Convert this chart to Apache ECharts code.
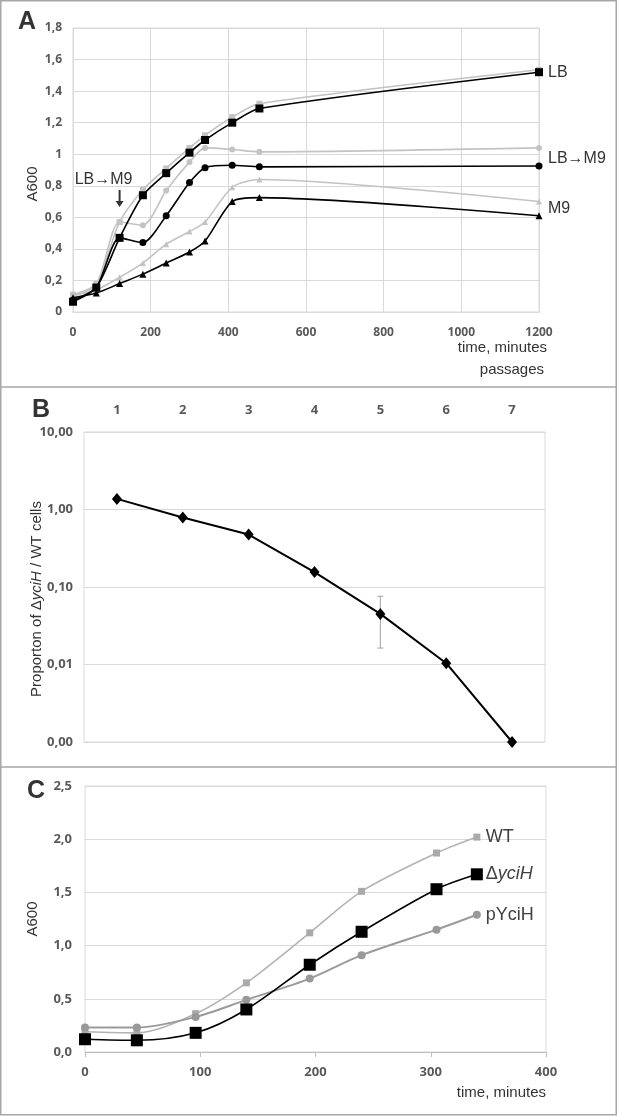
<!DOCTYPE html>
<html><head><meta charset="utf-8">
<script src="https://cdn.jsdelivr.net/npm/echarts@6/dist/echarts.min.js"></script>
<style>html,body{margin:0;padding:0;background:#fff}#c{width:618px;height:1116px}</style>
</head><body><div id="c"></div>
<script>
// ---------- Panel A ----------
const timeA = [0, 60, 120, 180, 240, 300, 340, 410, 480, 1200];
const lbGray    = [0.11, 0.18, 0.57, 0.775, 0.91, 1.04, 1.12, 1.235, 1.32, 1.535];
const lbBlack   = [0.065, 0.155, 0.47, 0.74, 0.88, 1.01, 1.09, 1.20, 1.29, 1.52];
const lbm9Gray  = [0.10, 0.17, 0.57, 0.55, 0.77, 0.95, 1.04, 1.03, 1.015, 1.04];
const lbm9Black = [0.075, 0.155, 0.47, 0.44, 0.61, 0.82, 0.915, 0.93, 0.92, 0.925];
const m9Gray    = [0.11, 0.14, 0.22, 0.31, 0.43, 0.51, 0.57, 0.79, 0.84, 0.70];
const m9Black   = [0.09, 0.12, 0.18, 0.24, 0.31, 0.38, 0.45, 0.70, 0.725, 0.61];
const arrowTime = 120, arrowLevel = 0.72;

// ---------- Panel B ----------
const passages = ['1', '2', '3', '4', '5', '6', '7'];
const ratio = [1.37, 0.79, 0.475, 0.156, 0.045, 0.0104, 0.001];
const errPassage = ['5'];
const errLow = [0.0163];
const errHigh = [0.076];

// ---------- Panel C ----------
const timeC = [0, 45, 96, 140, 195, 240, 305, 340];
const wt    = [0.19, 0.18, 0.36, 0.65, 1.12, 1.51, 1.87, 2.02];
const dyciH = [0.12, 0.11, 0.18, 0.40, 0.82, 1.13, 1.53, 1.67];
const pyciH = [0.23, 0.23, 0.33, 0.49, 0.69, 0.91, 1.15, 1.29];

const chart = echarts.init(document.getElementById('c'), null, {renderer: 'canvas'});
const FF = 'Liberation Sans, Arial, sans-serif';
const TICKF = 'Open Sans, sans-serif';
const pairs = (xs, ys) => xs.map((x, i) => [x, ys[i]]);
const comma1 = v => String(Math.round(v * 10) / 10).replace('.', ',');
const splitL = {show: true, lineStyle: {color: '#d9d9d9', width: 1}};
const axLine = {show: true, lineStyle: {color: '#d9d9d9', width: 1}};
const tickLbl = (size, margin, fmt) => ({fontFamily: TICKF, fontWeight: 'bold', fontSize: size, color: '#595959', margin, formatter: fmt});

function lineA(name, data, color, symbol, size, z, endLabel, extra) {
  return Object.assign({
    type: 'line', name, xAxisIndex: 0, yAxisIndex: 0, data: pairs(timeA, data),
    smooth: 0.25, symbol, symbolSize: size, z,
    lineStyle: {color, width: 1.6}, itemStyle: {color},
    endLabel: endLabel || {show: false}, animation: false
  }, extra || {});
}
const endLblA = (text, offset) => ({show: true, formatter: text, distance: 9, offset: offset || [0, 0], color: '#333', fontSize: 16, fontFamily: FF});

const GRAYA = '#c3c3c3';
const gridBase = {show: true, borderColor: '#d9d9d9', borderWidth: 1, containLabel: false, outerBoundsMode: 'none'};

const option = {
  animation: false,
  backgroundColor: '#fff',
  textStyle: {fontFamily: FF},
  title: [
    {text: 'A', left: 18, top: 10, padding: 0, textStyle: {fontSize: 25, fontWeight: 'bold', color: '#333', fontFamily: FF}},
    {text: 'B', left: 32, top: 398, padding: 0, textStyle: {fontSize: 25, fontWeight: 'bold', color: '#333', fontFamily: FF}},
    {text: 'C', left: 27, top: 779, padding: 0, textStyle: {fontSize: 25, fontWeight: 'bold', color: '#333', fontFamily: FF}}
  ],
  grid: [
    Object.assign({left: 73, top: 28, width: 466, height: 284}, gridBase),
    Object.assign({left: 84, top: 432, width: 461, height: 310}, gridBase),
    Object.assign({left: 85, top: 786, width: 461, height: 266}, gridBase)
  ],
  xAxis: [
    {gridIndex: 0, type: 'value', min: 0, max: 1200, interval: 200,
     axisLine: axLine, axisTick: {show: false}, splitLine: splitL,
     axisLabel: tickLbl(12, 15, v => String(v))},
    {gridIndex: 1, type: 'category', data: passages, position: 'top', boundaryGap: true,
     axisLine: {show: false}, axisTick: {show: false}, splitLine: {show: false},
     axisLabel: tickLbl(13, 15)},
    {gridIndex: 2, type: 'value', min: 0, max: 400, interval: 100,
     axisLine: {show: true, lineStyle: {color: '#bfbfbf', width: 1}},
     axisTick: {show: true, length: 5, lineStyle: {color: '#bfbfbf'}}, splitLine: {show: false},
     axisLabel: tickLbl(13, 14, v => String(v))}
  ],
  yAxis: [
    {gridIndex: 0, type: 'value', min: 0, max: 1.8, interval: 0.2,
     axisLine: axLine, axisTick: {show: false}, splitLine: splitL,
     axisLabel: tickLbl(12, 11, comma1),
     name: 'A600', nameLocation: 'middle', nameGap: 33, nameRotate: 90, nameMoveOverlap: false,
     nameTextStyle: {fontSize: 15, color: '#333', fontFamily: FF, padding: [0, 28, 0, 0]}},
    {gridIndex: 1, type: 'log', logBase: 10, min: 0.001, max: 10,
     axisLine: {show: false}, axisTick: {show: false}, splitLine: splitL,
     axisLabel: tickLbl(13, 11, v => v.toFixed(2).replace('.', ',')),
     name: '{n|Proporton of \u0394}{i|yciH}{n| / WT cells}', nameLocation: 'middle', nameGap: 40, nameRotate: 90, nameMoveOverlap: false,
     nameTextStyle: {fontSize: 15, color: '#333', fontFamily: FF, padding: [0, 24, 0, 0],
       rich: {n: {fontSize: 15, color: '#333', fontFamily: FF}, i: {fontSize: 15, color: '#333', fontFamily: FF, fontStyle: 'italic'}}}},
    {gridIndex: 2, type: 'value', min: 0, max: 2.5, interval: 0.5,
     axisLine: {show: false}, axisTick: {show: false}, splitLine: splitL,
     axisLabel: tickLbl(13, 13, v => v.toFixed(1).replace('.', ',')),
     name: 'A600', nameLocation: 'middle', nameGap: 45, nameRotate: 90, nameMoveOverlap: false,
     nameTextStyle: {fontSize: 15, color: '#333', fontFamily: FF}}
  ],
  series: [
    lineA('LB gray', lbGray, GRAYA, 'rect', 6, 2, null, {
      markPoint: {
        symbol: 'path://M3,0 L5,0 L5,11 L8,11 L4,17 L0,11 L3,11 Z', symbolSize: [8, 17],
        itemStyle: {color: '#333'},
        label: {show: true, formatter: 'LB\u2192M9', position: 'top', distance: 2, offset: [-16, 0], color: '#333', fontSize: 16, fontFamily: FF},
        data: [{coord: [arrowTime, arrowLevel]}]
      }
    }),
    lineA('LB→M9 gray', lbm9Gray, GRAYA, 'circle', 6, 2),
    lineA('M9 gray', m9Gray, GRAYA, 'triangle', 6, 2),
    lineA('LB', lbBlack, '#000', 'rect', 8, 3, endLblA('LB')),
    lineA('LB→M9', lbm9Black, '#000', 'circle', 7, 3, endLblA('LB\u2192M9', [0, -7])),
    lineA('M9', m9Black, '#000', 'triangle', 7, 3, endLblA('M9', [0, -7])),
    {type: 'line', name: 'ratio', xAxisIndex: 1, yAxisIndex: 1, data: ratio,
     symbol: 'diamond', symbolSize: [10, 12], lineStyle: {color: '#000', width: 2}, itemStyle: {color: '#000'}, z: 3},
    {type: 'custom', name: 'err', xAxisIndex: 1, yAxisIndex: 1,
     data: errPassage.map((p, i) => [p, errLow[i], errHigh[i]]),
     encode: {x: 0, y: [1, 2]},
     renderItem: (params, api) => {
       const x = api.value(0);
       const lo = api.coord([x, api.value(1)]);
       const hi = api.coord([x, api.value(2)]);
       const st = {stroke: '#a0a0a0', lineWidth: 1};
       return {type: 'group', children: [
         {type: 'line', shape: {x1: lo[0], y1: lo[1], x2: hi[0], y2: hi[1]}, style: st},
         {type: 'line', shape: {x1: hi[0] - 3, y1: hi[1], x2: hi[0] + 3, y2: hi[1]}, style: st},
         {type: 'line', shape: {x1: lo[0] - 3, y1: lo[1], x2: lo[0] + 3, y2: lo[1]}, style: st}
       ]};
     }, z: 2},
    {type: 'line', name: 'WT', xAxisIndex: 2, yAxisIndex: 2, data: pairs(timeC, wt), smooth: 0.3,
     symbol: 'rect', symbolSize: 7, lineStyle: {color: '#b3b3b3', width: 1.6}, itemStyle: {color: '#aaaaaa'}, z: 2,
     endLabel: {show: true, formatter: 'WT', distance: 9, color: '#404040', fontSize: 18, fontFamily: FF}},
    {type: 'line', name: 'pYciH', xAxisIndex: 2, yAxisIndex: 2, data: pairs(timeC, pyciH), smooth: 0.3,
     symbol: 'circle', symbolSize: 8, lineStyle: {color: '#9a9a9a', width: 2}, itemStyle: {color: '#999999'}, z: 2,
     endLabel: {show: true, formatter: 'pYciH', distance: 9, color: '#404040', fontSize: 18, fontFamily: FF}},
    {type: 'line', name: 'ΔyciH', xAxisIndex: 2, yAxisIndex: 2, data: pairs(timeC, dyciH), smooth: 0.3,
     symbol: 'rect', symbolSize: 12, lineStyle: {color: '#000', width: 1.6}, itemStyle: {color: '#000'}, z: 3,
     endLabel: {show: true, formatter: '{n|\u0394}{i|yciH}', distance: 9, color: '#404040', fontSize: 18, fontFamily: FF,
       rich: {n: {fontSize: 18, color: '#404040', fontFamily: FF}, i: {fontSize: 18, color: '#404040', fontFamily: FF, fontStyle: 'italic'}}}}
  ],
  graphic: [
    {type: 'rect', shape: {x: 0.75, y: 0.75, width: 615.5, height: 1114}, style: {fill: 'none', stroke: '#a6a6a6', lineWidth: 1.5}, silent: true},
    {type: 'line', shape: {x1: 0, y1: 387, x2: 617, y2: 387}, style: {stroke: '#a6a6a6', lineWidth: 1.5}, silent: true},
    {type: 'line', shape: {x1: 0, y1: 767, x2: 617, y2: 767}, style: {stroke: '#a6a6a6', lineWidth: 1.5}, silent: true},
    {type: 'text', x: 547, y: 348, style: {text: 'time, minutes', align: 'right', verticalAlign: 'middle', font: '15px Liberation Sans', fill: '#333'}, silent: true},
    {type: 'text', x: 544, y: 370, style: {text: 'passages', align: 'right', verticalAlign: 'middle', font: '15px Liberation Sans', fill: '#333'}, silent: true},
    {type: 'text', x: 546, y: 1093, style: {text: 'time, minutes', align: 'right', verticalAlign: 'middle', font: '15px Liberation Sans', fill: '#333'}, silent: true}
  ]
};
chart.setOption(option);
</script>
</body></html>
